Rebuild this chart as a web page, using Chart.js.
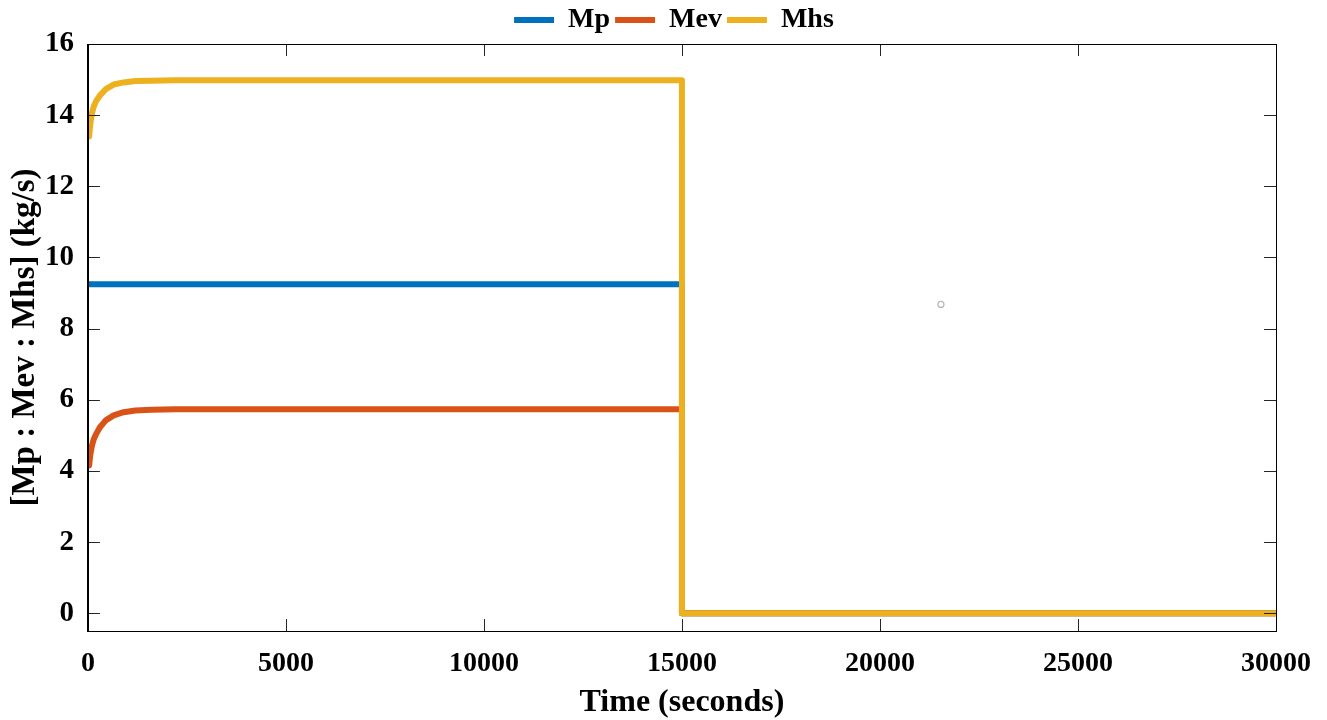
<!DOCTYPE html>
<html>
<head>
<meta charset="utf-8">
<script src="https://cdn.jsdelivr.net/npm/chart.js@4.4.1/dist/chart.umd.min.js"></script>
<style>
  html, body { margin: 0; padding: 0; background: #ffffff; }
  #wrap { width: 1327px; height: 720px; }
</style>
</head>
<body>
<div id="wrap"><canvas id="chart" width="1327" height="720"></canvas></div>
<script>
// Mass flow rates; the pump trips at t = 15000 s.
const seriesNames = ['Mp', 'Mev', 'Mhs'];
const timeMp = [0, 15000, 15000, 30000];
const mp = [9.25, 9.25, 0, 0];

const timeMev = [0, 30, 60, 100, 150, 200, 300, 450, 650, 900, 1200, 1600, 2200, 15000, 15000, 30000];
const mev = [4.45, 4.15, 4.45, 4.7, 4.9, 5.02, 5.22, 5.42, 5.56, 5.65, 5.7, 5.72, 5.73, 5.73, 0, 0];

const timeMhs = [0, 30, 60, 100, 150, 200, 300, 450, 650, 900, 1200, 1600, 2200, 15000, 15000, 30000];
const mhs = [13.7, 13.4, 13.75, 14.05, 14.25, 14.38, 14.55, 14.73, 14.86, 14.92, 14.96, 14.97, 14.98, 14.98, 0, 0];

// stray marker left in the original figure
const strayPoint = [[21540, 8.68]];

const xTicks = [0, 5000, 10000, 15000, 20000, 25000, 30000];
const yTicks = [0, 2, 4, 6, 8, 10, 12, 14, 16];

const colours = ['#0072BD', '#D95319', '#EDB120'];
const serif = "'Liberation Serif', 'Times New Roman', serif";

const toPoints = (xs, ys) => xs.map((x, i) => ({ x: x, y: ys[i] }));

// MATLAB-style box with ticks pointing inwards on all four sides.
const boxTicks = {
  id: 'boxTicks',
  afterDatasetsDraw(chart) {
    const { ctx, chartArea: a, scales } = chart;
    const len = 12;
    ctx.save();
    ctx.strokeStyle = '#262626';
    ctx.lineWidth = 1;
    ctx.beginPath();
    xTicks.forEach((v) => {
      const px = Math.round(scales.x.getPixelForValue(v)) + 0.5;
      ctx.moveTo(px, a.bottom); ctx.lineTo(px, a.bottom - len);
      ctx.moveTo(px, a.top); ctx.lineTo(px, a.top + len);
    });
    yTicks.forEach((v) => {
      const py = Math.round(scales.y.getPixelForValue(v)) + 0.5;
      ctx.moveTo(a.left, py); ctx.lineTo(a.left + len, py);
      ctx.moveTo(a.right, py); ctx.lineTo(a.right - len, py);
    });
    ctx.stroke();
    ctx.strokeStyle = '#000000';
    ctx.strokeRect(Math.round(a.left) + 0.5, Math.round(a.top) + 0.5,
      Math.round(a.right - a.left), Math.round(a.bottom - a.top));
    ctx.restore();
  },
};

// The legend sits over the plot box, not over the whole canvas.
const legendOverPlot = {
  id: 'legendOverPlot',
  afterLayout(chart) {
    const lg = chart.legend;
    const dx = (chart.chartArea.left + chart.chartArea.right) / 2 - 8 - (lg.left + lg.right) / 2;
    lg.left += dx;
    lg.right += dx;
  },
};

new Chart(document.getElementById('chart'), {
  type: 'line',
  data: {
    datasets: [
      { label: seriesNames[0], data: toPoints(timeMp, mp), order: 3 },
      { label: seriesNames[1], data: toPoints(timeMev, mev), order: 2 },
      { label: seriesNames[2], data: toPoints(timeMhs, mhs), order: 1 },
    ].map((d, i) => ({
      ...d,
      borderColor: colours[i],
      backgroundColor: colours[i],
      borderWidth: 6,
      pointRadius: 0,
      tension: 0,
      borderJoinStyle: 'round',
      borderCapStyle: 'round',
    })).concat([{
      label: 'stray',
      type: 'scatter',
      order: 0,
      data: strayPoint.map(([x, y]) => ({ x, y })),
      pointRadius: 3,
      pointBorderWidth: 1.2,
      pointBorderColor: '#b8b8b8',
      pointBackgroundColor: 'rgba(0,0,0,0)',
      showLine: false,
    }]),
  },
  options: {
    responsive: false,
    animation: false,
    layout: { padding: { left: 0, right: 51, top: 1, bottom: 0 } },
    plugins: {
      tooltip: { enabled: false },
      legend: {
        position: 'top',
        align: 'center',
        labels: {
          font: { family: serif, size: 28, weight: 'bold' },
          color: '#000000',
          boxWidth: 40,
          boxHeight: 6,
          padding: 5,
          generateLabels: (chart) => chart.data.datasets.slice(0, 3).map((d, i) => ({
            text: d.label,
            fillStyle: d.borderColor,
            strokeStyle: d.borderColor,
            lineWidth: 0,
            hidden: false,
            datasetIndex: i,
          })),
        },
      },
    },
    scales: {
      x: {
        type: 'linear',
        min: 0,
        max: 30000,
        afterBuildTicks: (s) => { s.ticks = xTicks.map((v) => ({ value: v })); },
        grid: { display: false, drawTicks: false },
        border: { display: true, color: '#000000' },
        ticks: {
          font: { family: serif, size: 28, weight: 'bold', lineHeight: 1.357 },
          color: '#000000',
          padding: 14,
          maxRotation: 0,
          callback: (v) => String(v),
        },
        title: {
          display: true,
          text: 'Time (seconds)',
          font: { family: serif, size: 32, weight: 'bold', lineHeight: 0.375 },
          color: '#000000',
          padding: { top: 0, bottom: 11 },
        },
      },
      y: {
        type: 'linear',
        min: -0.5,
        max: 16,
        afterBuildTicks: (s) => { s.ticks = yTicks.map((v) => ({ value: v })); },
        grid: { display: false, drawTicks: false },
        border: { display: true, color: '#000000' },
        ticks: {
          font: { family: serif, size: 29, weight: 'bold' },
          color: '#000000',
          padding: 14,
          callback: (v) => String(v),
        },
        title: {
          display: true,
          text: '[Mp : Mev : Mhs] (kg/s)',
          font: { family: serif, size: 33, weight: 'bold', lineHeight: 0.3 },
          color: '#000000',
          padding: { top: 21, bottom: 0 },
        },
      },
    },
  },
  plugins: [boxTicks, legendOverPlot],
});
</script>
</body>
</html>
